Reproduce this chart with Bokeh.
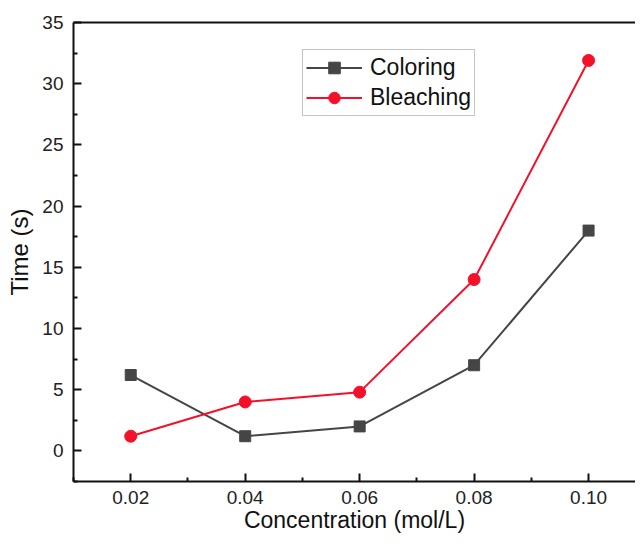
from bokeh.plotting import figure
from bokeh.models import (Range1d, FixedTicker, LinearAxis, Legend, LegendItem,
                          PrintfTickFormatter, ColumnDataSource)
from bokeh.embed import file_html
from bokeh.resources import INLINE

# ---- data ----
concentration = [0.02, 0.04, 0.06, 0.08, 0.10]
coloring = [6.2, 1.2, 2.0, 7.0, 18.0]
bleaching = [1.2, 4.0, 4.8, 14.0, 31.9]

x_ticks = [0.02, 0.04, 0.06, 0.08, 0.10]
x_minor = [0.01, 0.03, 0.05, 0.07, 0.09, 0.11]
y_ticks = [0, 5, 10, 15, 20, 25, 30, 35]
y_minor = [-2.5, 2.5, 7.5, 12.5, 17.5, 22.5, 27.5, 32.5]

FONT = "Liberation Sans"
GRAY = "#454545"
RED = "#f5102a"

p = figure(width=635, height=539, output_backend="svg", toolbar_location=None,
           x_range=Range1d(0.01, 0.1082), y_range=Range1d(-2.5, 35),
           min_border_left=73, min_border_right=0, min_border_top=22,
           min_border_bottom=58, x_axis_label="Concentration (mol/L)",
           y_axis_label="Time (s)")
p.outline_line_color = None
p.xgrid.visible = False
p.ygrid.visible = False
p.background_fill_color = "white"
p.border_fill_color = "white"

src = ColumnDataSource(dict(x=concentration, c=coloring, b=bleaching))
l1 = p.line("x", "c", source=src, line_color=GRAY, line_width=2)
m1 = p.scatter("x", "c", source=src, marker="square", size=11,
               fill_color=GRAY, line_color=GRAY)
l2 = p.line("x", "b", source=src, line_color=RED, line_width=2)
m2 = p.scatter("x", "b", source=src, marker="circle", size=12,
               fill_color=RED, line_color=RED)

for ax in (p.xaxis[0], p.yaxis[0]):
    ax.axis_line_width = 2
    ax.axis_line_color = "#111111"
    ax.major_tick_line_color = "#111111"
    ax.minor_tick_line_color = "#111111"
    ax.major_tick_line_width = 2
    ax.minor_tick_line_width = 2
    ax.major_tick_in = 8
    ax.major_tick_out = 0
    ax.minor_tick_in = 4
    ax.minor_tick_out = 0
    ax.major_label_text_font = FONT
    ax.major_label_text_font_size = "19px"
    ax.major_label_text_color = "#222222"
    ax.axis_label_text_font = FONT
    ax.axis_label_text_font_size = "24px"
    ax.axis_label_text_font_style = "normal"
    ax.axis_label_text_color = "#111111"

p.xaxis[0].ticker = FixedTicker(ticks=x_ticks, minor_ticks=x_minor)
p.xaxis[0].formatter = PrintfTickFormatter(format="%.2f")
p.xaxis[0].major_label_standoff = 9
p.xaxis[0].axis_label_standoff = 0
p.xaxis[0].axis_label_text_font_size = "23px"
p.yaxis[0].ticker = FixedTicker(ticks=y_ticks, minor_ticks=y_minor)
p.yaxis[0].major_label_standoff = 10
p.yaxis[0].axis_label_standoff = 6

top = LinearAxis(ticker=FixedTicker(ticks=[]), major_label_text_font_size="0px",
                 major_tick_in=0, major_tick_out=0, minor_tick_in=0, minor_tick_out=0,
                 axis_line_width=2, axis_line_color="#111111")
p.add_layout(top, "above")

legend = Legend(items=[LegendItem(label="Coloring", renderers=[l1, m1]),
                       LegendItem(label="Bleaching", renderers=[l2, m2])],
                location=(229, 365), label_text_font=FONT,
                label_text_font_size="23px", label_text_color="#111111",
                glyph_width=56, glyph_height=29, label_height=29,
                label_standoff=8, padding=3, spacing=1, margin=0,
                border_line_color="#8a8a8a", border_line_width=1.5,
                background_fill_alpha=1.0)
p.add_layout(legend, "center")

open("out.html", "w").write(file_html(p, INLINE))
